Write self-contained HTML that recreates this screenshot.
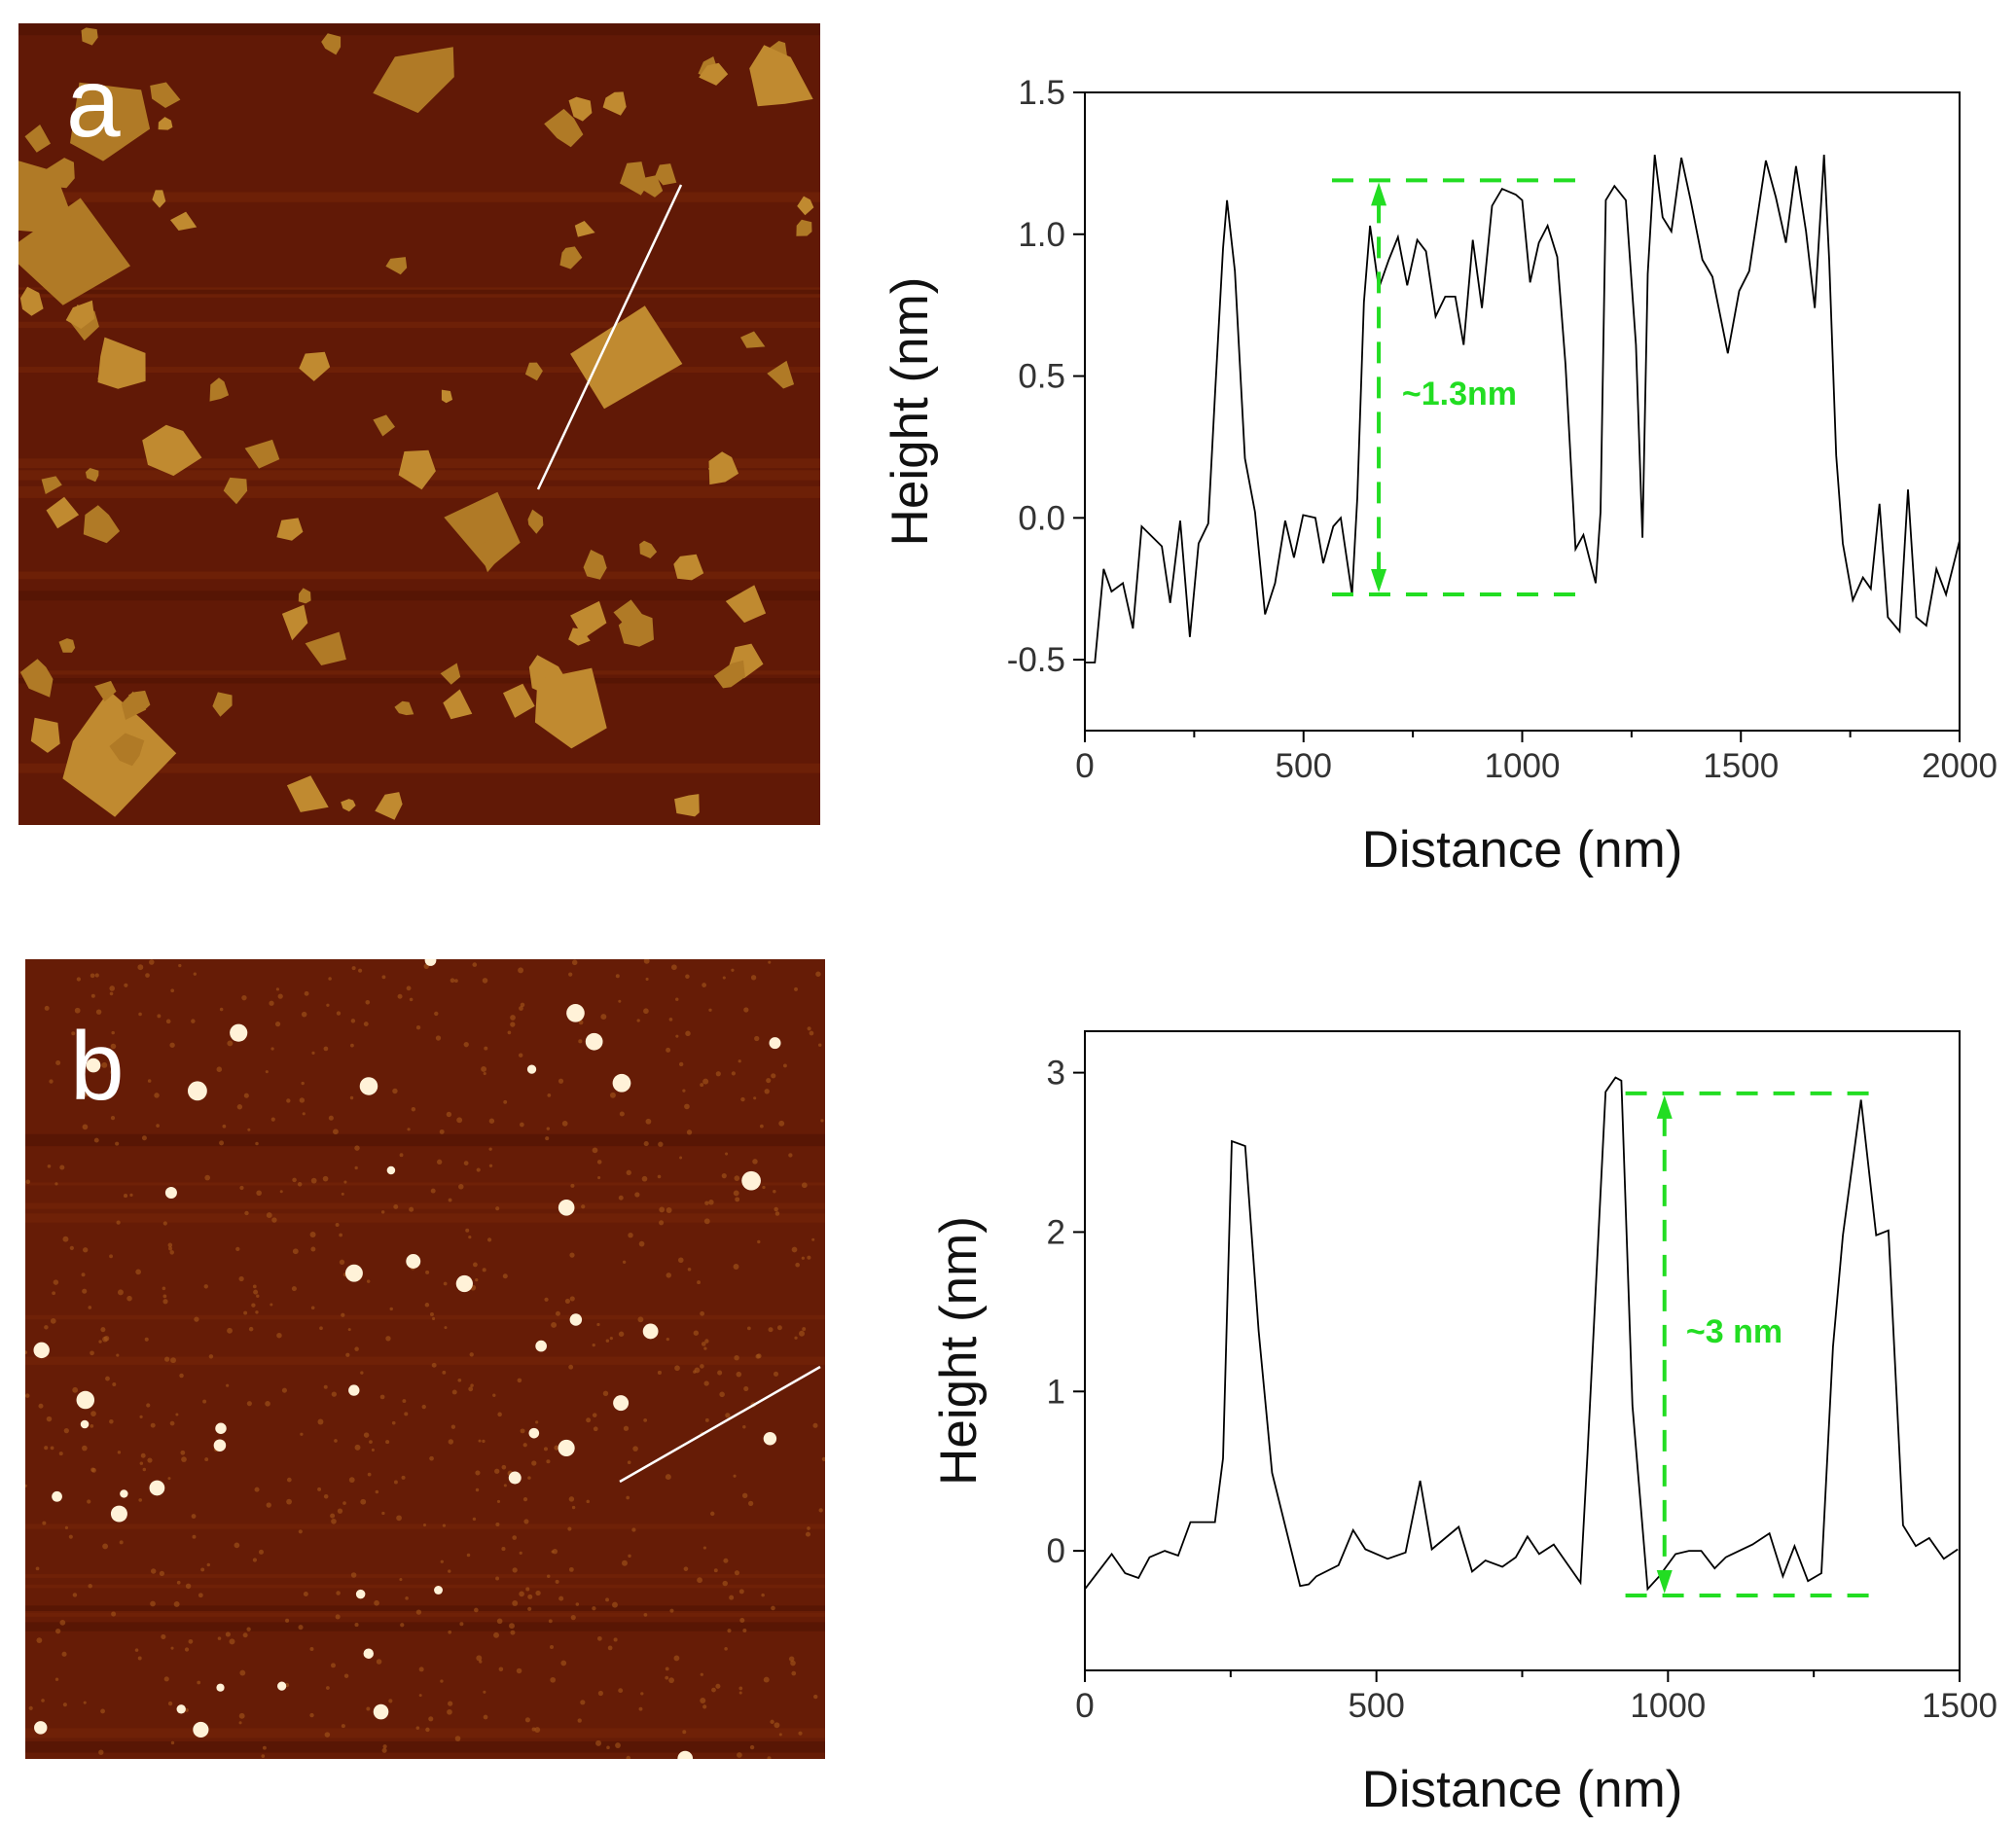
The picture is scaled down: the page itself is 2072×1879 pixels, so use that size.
<!DOCTYPE html>
<html><head><meta charset="utf-8"><style>
html,body{margin:0;padding:0;background:#fff;}
svg{display:block;font-family:"Liberation Sans",Arial,sans-serif;}
</style></head><body>
<svg id="fig" width="2072" height="1879" viewBox="0 0 2072 1879" xmlns="http://www.w3.org/2000/svg">
<defs>
<clipPath id="clipA"><rect x="19" y="24" width="824" height="824"/></clipPath>
<clipPath id="clipB"><rect x="26" y="986" width="822" height="822"/></clipPath>
</defs>
<g id="afmA" clip-path="url(#clipA)"><rect x="19" y="24" width="824" height="824" fill="#611906"/></g>
<g id="afmB" clip-path="url(#clipB)"><rect x="26" y="986" width="822" height="822" fill="#661c06"/></g>
<text x="68" y="140" font-size="100" fill="#fff">a</text>
<text x="72" y="1130" font-size="100" fill="#fff">b</text>
<g id="chartA"></g>
<g id="chartB"></g>
</svg>
<script>
// ---- chart A data ----
const xA = [0,23,43,61,87,110,130,176,195,218,240,260,282,298,316,325,343,366,389,412,435,458,478,499,527,545,568,585,611,623,638,652,672,695,716,737,760,780,802,824,847,866,887,908,931,954,985,1000,1018,1038,1058,1080,1099,1122,1140,1168,1179,1191,1211,1237,1260,1275,1287,1303,1321,1341,1364,1385,1412,1435,1470,1496,1519,1557,1580,1603,1626,1649,1669,1690,1702,1718,1733,1756,1779,1797,1817,1836,1863,1882,1901,1924,1947,1969,2000];
const yA = [-0.51,-0.51,-0.18,-0.26,-0.23,-0.39,-0.03,-0.10,-0.30,-0.01,-0.42,-0.09,-0.02,0.45,0.95,1.12,0.87,0.21,0.02,-0.34,-0.23,-0.01,-0.14,0.01,0.00,-0.16,-0.03,0.00,-0.27,0.07,0.76,1.03,0.81,0.91,0.99,0.82,0.98,0.94,0.71,0.78,0.78,0.61,0.98,0.74,1.10,1.16,1.14,1.12,0.83,0.97,1.03,0.92,0.54,-0.11,-0.06,-0.23,0.02,1.12,1.17,1.12,0.61,-0.07,0.86,1.28,1.06,1.01,1.27,1.12,0.91,0.85,0.58,0.80,0.87,1.26,1.13,0.97,1.24,1.01,0.74,1.28,0.91,0.22,-0.09,-0.29,-0.21,-0.25,0.05,-0.35,-0.40,0.10,-0.35,-0.38,-0.18,-0.27,-0.08];
const xTicksA = [0,500,1000,1500,2000];
const yTicksA = [-0.5,0.0,0.5,1.0,1.5];
const yTickLabelsA = ["-0.5","0.0","0.5","1.0","1.5"];
const annotA = {top:1.19, bottom:-0.27, x0:565, x1:1145, arrowX:672, textX:725, textY:0.44, label:"~1.3nm"};
// ---- chart B data ----
const xB = [0,46,69,92,111,137,160,181,223,237,252,275,298,321,369,384,397,435,460,481,519,550,575,595,641,664,687,716,739,759,779,804,850,862,893,910,920,939,965,985,1013,1036,1057,1080,1099,1145,1174,1197,1217,1240,1263,1283,1300,1331,1357,1378,1403,1425,1448,1473,1497];
const yB = [-0.24,-0.02,-0.14,-0.17,-0.04,0.0,-0.03,0.18,0.18,0.58,2.57,2.54,1.38,0.49,-0.22,-0.21,-0.16,-0.09,0.13,0.01,-0.05,-0.01,0.44,0.01,0.15,-0.13,-0.06,-0.10,-0.04,0.09,-0.02,0.04,-0.20,0.61,2.88,2.97,2.95,0.91,-0.24,-0.16,-0.02,0.0,0.0,-0.11,-0.04,0.04,0.11,-0.16,0.03,-0.19,-0.14,1.28,1.98,2.83,1.98,2.01,0.16,0.03,0.08,-0.05,0.01];
const xTicksB = [0,500,1000,1500];
const yTicksB = [0,1,2,3];
const yTickLabelsB = ["0","1","2","3"];
const annotB = {top:2.87, bottom:-0.28, x0:927, x1:1363, arrowX:994, textX:1031, textY:1.38, label:"~3 nm"};

const NS = "http://www.w3.org/2000/svg";
function mk(tag, attrs, parent){const e=document.createElementNS(NS,tag);for(const k in attrs)e.setAttribute(k,attrs[k]);parent.appendChild(e);return e;}

function drawChart(g, box, xmin, xmax, ymin, ymax, xs, ys, xT, yT, yTL, minorStep, an, yLabelX){
  const sx = v => box.l + (v-xmin)/(xmax-xmin)*(box.r-box.l);
  const sy = v => box.b - (v-ymin)/(ymax-ymin)*(box.b-box.t);
  const frame = mk("rect",{x:box.l,y:box.t,width:box.r-box.l,height:box.b-box.t,fill:"none",stroke:"#000","stroke-width":2},g);
  
  
  for(let v=xmin; v<=xmax+1e-9; v+=minorStep){
    const major = xT.indexOf(v)>=0;
    const t = mk("line",{x1:sx(v),x2:sx(v),y1:box.b,y2:box.b+(major?12:7),stroke:"#000","stroke-width":2},g);
    
    
  }
  xT.forEach(v=>{
    const t = mk("text",{x:sx(v),y:box.b+48,"font-size":35,"text-anchor":"middle",fill:"#333"},g);
    t.textContent = v;
    
    
  });
  yT.forEach((v,i)=>{
    const l = mk("line",{x1:box.l-12,x2:box.l,y1:sy(v),y2:sy(v),stroke:"#000","stroke-width":2},g);
    
    
    const t = mk("text",{x:box.l-20,y:sy(v)+12,"font-size":35,"text-anchor":"end",fill:"#333"},g);
    t.textContent = yTL[i];
    
    
  });
  const xl = mk("text",{x:(box.l+box.r)/2,y:box.b+140,"font-size":53,"text-anchor":"middle",fill:"#111"},g);
  xl.textContent = "Distance (nm)";
  
  
  const cy=(box.t+box.b)/2;
  const yl = mk("text",{x:yLabelX,y:cy,"font-size":53,"text-anchor":"middle",fill:"#111",transform:`rotate(-90 ${yLabelX} ${cy})`},g);
  yl.textContent = "Height (nm)";
  
  
  const pts = xs.map((x,i)=>sx(x).toFixed(1)+","+sy(ys[i]).toFixed(1)).join(" ");
  const pl = mk("polyline",{points:pts,fill:"none",stroke:"#000","stroke-width":1.8},g);
  
  
  const green="#22dd22";
  [an.top, an.bottom].forEach(v=>{
    const d = mk("line",{x1:sx(an.x0),x2:sx(an.x1),y1:sy(v),y2:sy(v),stroke:green,"stroke-width":4,"stroke-dasharray":"22,16"},g);
    
    
  });
  const ax=sx(an.arrowX), a1=sy(an.top), a2=sy(an.bottom);
  const v = mk("line",{x1:ax,x2:ax,y1:a1+22,y2:a2-22,stroke:green,"stroke-width":4,"stroke-dasharray":"22,14"},g);
  
  
  const h1 = mk("polygon",{points:`${ax},${a1+2} ${ax-8},${a1+26} ${ax+8},${a1+26}`,fill:green},g);
  
  
  const h2 = mk("polygon",{points:`${ax},${a2-2} ${ax-8},${a2-26} ${ax+8},${a2-26}`,fill:green},g);
  
  
  const tx = mk("text",{x:sx(an.textX),y:sy(an.textY)+12,"font-size":34,"font-weight":"bold",fill:green},g);
  tx.textContent = an.label;
  
  
}
drawChart(document.getElementById("chartA"),{l:1115,r:2014,t:95,b:751},0,2000,-0.75,1.5,xA,yA,xTicksA,yTicksA,yTickLabelsA,250,annotA,953);
drawChart(document.getElementById("chartB"),{l:1115,r:2014,t:1060,b:1717},0,1500,-0.75,3.26,xB,yB,xTicksB,yTicksB,yTickLabelsB,250,annotB,1003);

// ---- AFM image decoration (texture only) ----
let seed=7;function rnd(){seed=(seed*16807)%2147483647;return seed/2147483647;}
function afm(g,x0,y0,w,big){
  for(let i=0;i<14;i++){
    const s=mk("rect",{x:x0,y:y0+rnd()*w,width:w,height:3+rnd()*10,fill:rnd()<0.5?"#4e1203":"#742509",opacity:0.6},g);
    
    
  }
  if(big){
    for(let i=0;i<90;i++){
      const cx=x0+10+rnd()*(w-20), cy=y0+10+rnd()*(w-20), r=(rnd()<0.15?30+rnd()*45:8+rnd()*16);
      let p=[];const n=4+Math.floor(rnd()*3);
      for(let k=0;k<n;k++){const a=k/n*6.283+rnd()*0.6;const rr=r*(0.6+rnd()*0.5);p.push((cx+Math.cos(a)*rr).toFixed(1)+","+(cy+Math.sin(a)*rr).toFixed(1));}
      const f=mk("polygon",{points:p.join(" "),fill:rnd()<0.5?"#c08a30":"#b07a26"},g);
      
      
    }
  } else {
    for(let i=0;i<700;i++){
      const d=mk("circle",{cx:x0+rnd()*w,cy:y0+rnd()*w,r:1.5+rnd()*1.5,fill:"#a5561a",opacity:0.6},g);
      
      
    }
    for(let i=0;i<45;i++){
      const d=mk("circle",{cx:x0+rnd()*w,cy:y0+rnd()*w,r:4+rnd()*6,fill:"#fff2d8"},g);
      
      
    }
  }
}
afm(document.getElementById("afmA"),19,24,824,true);
afm(document.getElementById("afmB"),26,986,822,false);
const gA=document.getElementById("afmA");
const la=mk("line",{x1:553,y1:503,x2:700,y2:190,stroke:"#fff","stroke-width":2.5},gA);


const gB=document.getElementById("afmB");
const lb=mk("line",{x1:637,y1:1523,x2:843,y2:1405,stroke:"#fff","stroke-width":2.5},gB);


</script>
</body></html>
